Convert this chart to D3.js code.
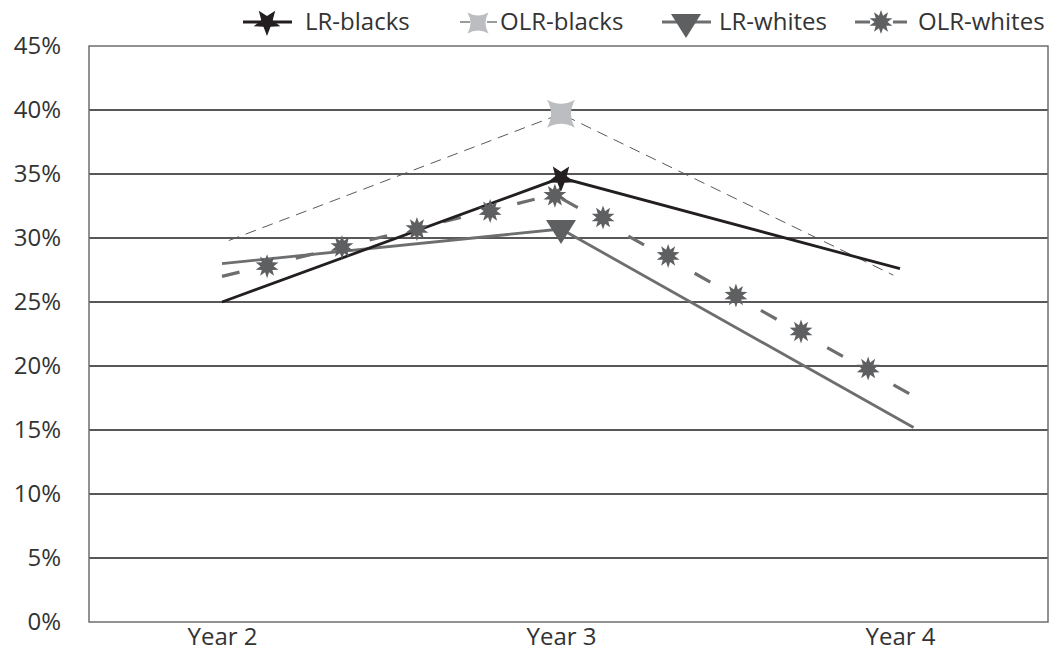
<!DOCTYPE html>
<html><head><meta charset="utf-8">
<script src="https://cdn.jsdelivr.net/npm/d3@7"></script>
<style>body{margin:0;background:#fff}svg{display:block}text{font-family:"Open Sans",sans-serif;fill:#333}</style>
</head><body>
<script>
// ---- data ----
const yearTicks = [2, 3, 4];
const yearLabels = ["Year 2", "Year 3", "Year 4"];
const yTicks = [0, 5, 10, 15, 20, 25, 30, 35, 40, 45];
const seriesNames = ["LR-blacks", "OLR-blacks", "LR-whites", "OLR-whites"];
const lrBlacksX = [2, 3, 4];
const lrBlacksY = [25.0, 34.7, 27.6];
const olrBlacksX = [2.02, 3, 3.98];
const olrBlacksY = [29.8, 39.7, 27.1];
const lrWhitesX = [2, 3, 4.04];
const lrWhitesY = [28.0, 30.7, 15.2];
const olrWhitesX = [2, 2.98, 4.03];
const olrWhitesY = [27.0, 33.4, 17.8];
const olrWhitesMarkX = [2.133, 2.354, 2.575, 2.791, 2.982, 3.124, 3.316, 3.516, 3.708, 3.906];
const olrWhitesMarkY = [27.8, 29.3, 30.7, 32.1, 33.3, 31.6, 28.6, 25.5, 22.7, 19.8];

const W = 1056, H = 655;
const plot = {left: 89, right: 1048, top: 46, bottom: 622};
const svg = d3.select("body").append("svg").attr("width", W).attr("height", H);
const x = d3.scaleLinear().domain([2, 4]).range([222, 900]);
const y = d3.scaleLinear().domain([0, 45]).range([plot.bottom, plot.top]);

// gridlines
svg.append("g").selectAll("line").data(yTicks.filter(t => t > 0 && t < 45)).join("line")
  .attr("x1", plot.left).attr("x2", plot.right)
  .attr("y1", d => y(d)).attr("y2", d => y(d))
  .attr("stroke", "#231f20").attr("stroke-width", 1.3);
svg.append("rect").attr("x", plot.left).attr("y", plot.top)
  .attr("width", plot.right - plot.left).attr("height", plot.bottom - plot.top)
  .attr("fill", "none").attr("stroke", "#6d6e70").attr("stroke-width", 1.5);

// axes
const yAxis = d3.axisLeft(y).tickValues(yTicks).tickFormat(d => d + "%").tickSize(0).tickPadding(0);
const gy = svg.append("g").attr("transform", "translate(61,0)").call(yAxis);
gy.select(".domain").remove();
gy.selectAll("text").style("font-size", "24px").attr("fill", "#333");
const xAxis = d3.axisBottom(x).tickValues(yearTicks).tickFormat((d, i) => yearLabels[i]).tickSize(0).tickPadding(0);
const gx = svg.append("g").attr("transform", "translate(0,628)").call(xAxis);
gx.select(".domain").remove();
gx.selectAll("text").style("font-size", "24px").attr("fill", "#333");

// star path
function star(n, ro, ri, rot) {
  const pts = [];
  for (let i = 0; i < 2 * n; i++) {
    const a = rot + Math.PI * i / n;
    const r = i % 2 === 0 ? ro : ri;
    pts.push([r * Math.sin(a), -r * Math.cos(a)]);
  }
  return "M" + pts.map(p => p.join(",")).join("L") + "Z";
}
function star4() {
  const s = 14, c = 6;
  return `M${-s},${-s}Q0,${-c} ${s},${-s}Q${c},0 ${s},${s}Q0,${c} ${-s},${s}Q${-c},0 ${-s},${-s}Z`;
}
const shapes = {
  "LR-blacks": star(5, 14, 6, Math.PI),
  "OLR-blacks": star4(),
  "LR-whites": "M-15,-11L15,-11L0,13Z",
  "OLR-whites": star(10, 12, 6.5, 0)
};
const colors = {"LR-blacks": "#231f20", "OLR-blacks": "#bcbdc0", "LR-whites": "#5d5f61", "OLR-whites": "#5d5f61"};

const line = d3.line().x(d => x(d[0])).y(d => y(d[1]));
const zip = (a, b) => a.map((v, i) => [v, b[i]]);

// lines
svg.append("path").datum(zip(olrBlacksX, olrBlacksY)).attr("d", line)
  .attr("fill", "none").attr("stroke", "#58595b").attr("stroke-width", 1).attr("stroke-dasharray", "11,7");
svg.append("path").datum(zip(lrWhitesX, lrWhitesY)).attr("d", line)
  .attr("fill", "none").attr("stroke", "#6d6e70").attr("stroke-width", 2.8);
// OLR-whites dashed: each segment drawn separately so its dashes fall between markers
const owPts = zip(olrWhitesX, olrWhitesY);
const segOffsets = [0, 67];
for (let i = 0; i < owPts.length - 1; i++) {
  svg.append("path").datum([owPts[i], owPts[i + 1]]).attr("d", line)
    .attr("fill", "none").attr("stroke", "#6d6e70").attr("stroke-width", 3.2)
    .attr("stroke-dasharray", "18,58").attr("stroke-dashoffset", segOffsets[i]);
}
svg.append("path").datum(zip(lrBlacksX, lrBlacksY)).attr("d", line)
  .attr("fill", "none").attr("stroke", "#231f20").attr("stroke-width", 2.8);

// markers
svg.append("g").selectAll("path").data(zip(olrWhitesMarkX, olrWhitesMarkY)).join("path")
  .attr("d", shapes["OLR-whites"]).attr("fill", colors["OLR-whites"])
  .attr("transform", d => `translate(${x(d[0])},${y(d[1])})`);
svg.append("path").attr("d", shapes["LR-whites"]).attr("fill", colors["LR-whites"])
  .attr("transform", `translate(${x(lrWhitesX[1])},${y(lrWhitesY[1]) + 2})`);
svg.append("path").attr("d", shapes["OLR-blacks"]).attr("fill", colors["OLR-blacks"])
  .attr("transform", `translate(${x(olrBlacksX[1])},${y(olrBlacksY[1])})`);
svg.append("path").attr("d", shapes["LR-blacks"]).attr("fill", colors["LR-blacks"])
  .attr("transform", `translate(${x(lrBlacksX[1])},${y(lrBlacksY[1])})`);

// legend
const legX = [243, 460, 662, 855];
const legText = [305, 500, 719, 918];
const lg = svg.append("g");
seriesNames.forEach((name, i) => {
  const g = lg.append("g").attr("transform", `translate(${legX[i]},22)`);
  if (name === "LR-blacks") {
    g.append("line").attr("x1", 0).attr("x2", 49).attr("stroke", "#231f20").attr("stroke-width", 3);
    g.append("path").attr("d", shapes[name]).attr("fill", colors[name]).attr("transform", "translate(24,0)");
  } else if (name === "OLR-blacks") {
    g.append("line").attr("x1", 0).attr("x2", 10).attr("stroke", "#58595b").attr("stroke-width", 1.2);
    g.append("line").attr("x1", 27).attr("x2", 37).attr("stroke", "#58595b").attr("stroke-width", 1.2);
    g.append("path").attr("d", shapes[name]).attr("fill", colors[name]).attr("transform", "translate(18,1) scale(0.75)");
  } else if (name === "LR-whites") {
    g.append("line").attr("x1", 0).attr("x2", 49).attr("stroke", "#6d6e70").attr("stroke-width", 3);
    g.append("path").attr("d", shapes[name]).attr("fill", colors[name]).attr("transform", "translate(24,3)");
  } else {
    g.append("line").attr("x1", 0).attr("x2", 15).attr("stroke", "#6d6e70").attr("stroke-width", 3);
    g.append("line").attr("x1", 38).attr("x2", 52).attr("stroke", "#6d6e70").attr("stroke-width", 3);
    g.append("path").attr("d", shapes[name]).attr("fill", colors[name]).attr("transform", "translate(26,0)");
  }
  lg.append("text").attr("x", legText[i]).attr("y", 22).attr("dy", "0.35em")
    .style("font-size", "24px").attr("fill", "#333").text(name);
});
</script>
</body></html>
